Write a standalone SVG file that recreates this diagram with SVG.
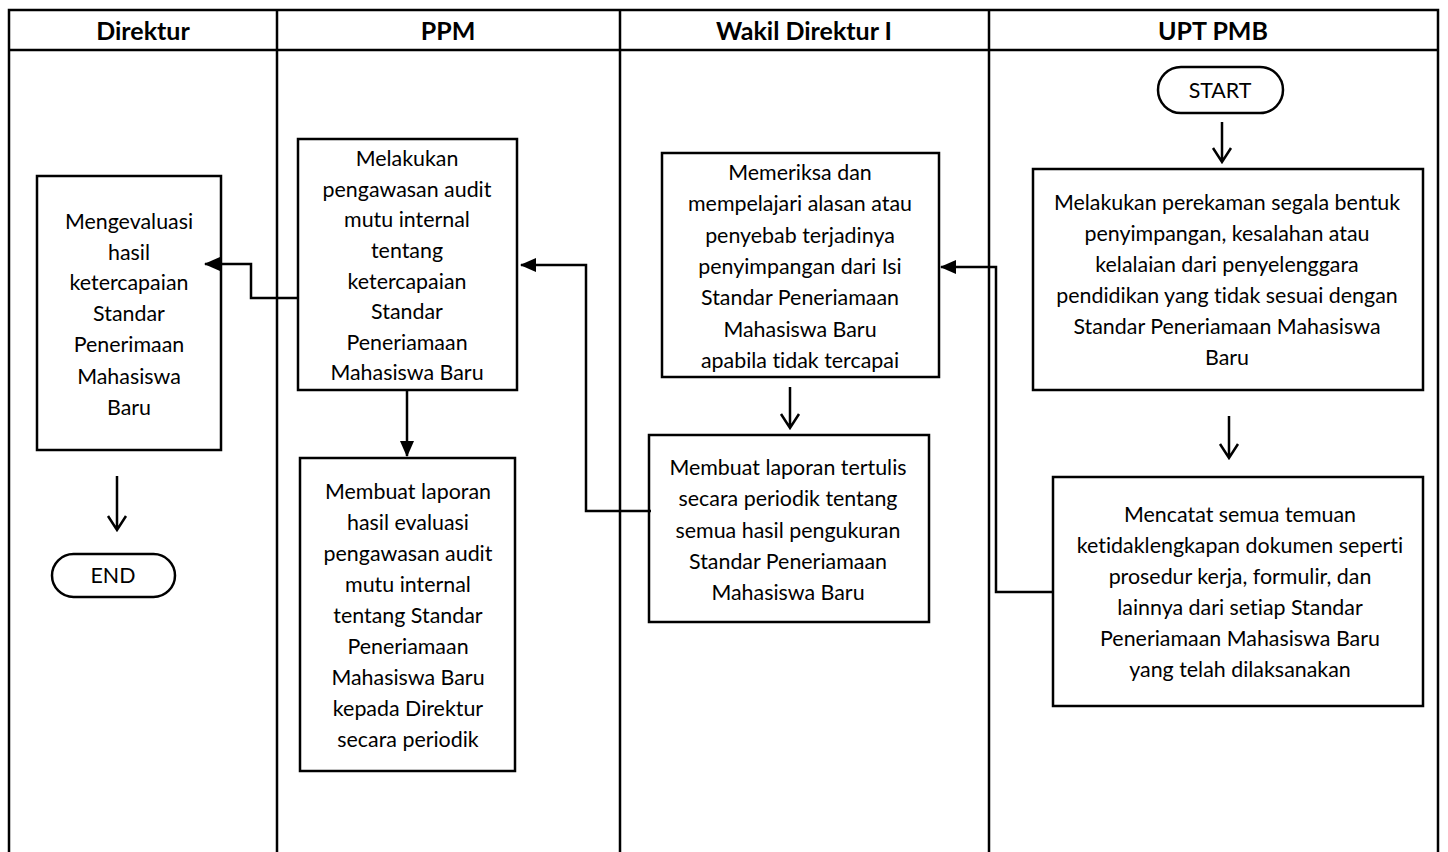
<svg xmlns="http://www.w3.org/2000/svg" width="1448" height="852" viewBox="0 0 1448 852">
<style>
.lane{stroke:#000;stroke-width:2.5;fill:none}
.box{fill:#fff;stroke:#000;stroke-width:2.5}
.term{fill:#fff;stroke:#000;stroke-width:2.5}
.t{font-family:Lato,"Liberation Sans",sans-serif;font-size:21.4px;fill:#000;text-anchor:middle;font-variant-ligatures:none}
.h{font-family:Lato,"Liberation Sans",sans-serif;font-size:25px;font-weight:bold;fill:#000;text-anchor:middle}
.c{stroke:#000;stroke-width:2.5;fill:none}
</style>
<defs>
<marker id="fill" markerUnits="userSpaceOnUse" markerWidth="16" markerHeight="14" refX="15" refY="7" orient="auto">
<path d="M0,0 L16,7 L0,14 Z" fill="#000"/>
</marker>
</defs>
<rect width="1448" height="852" fill="#fff"/>
<g id="lanes">
<path class="lane" d="M9,852 V10 H1438 V852 M9,50 H1438 M277,10 V852 M620,10 V852 M989,10 V852"/>
<text class="h" x="143" y="40">Direktur</text>
<text class="h" x="448" y="40">PPM</text>
<text class="h" x="804" y="40">Wakil Direktur I</text>
<text class="h" x="1213" y="40">UPT PMB</text>
</g>
<g id="start">
<rect class="term" x="1158" y="67" width="125" height="46" rx="23"/>
<text class="t" x="1220" y="98">START</text>
</g>
<g id="upt1">
<rect class="box" x="1033" y="169" width="390" height="221"/>
<text class="t" x="1227" y="210">Melakukan perekaman segala bentuk</text>
<text class="t" x="1227" y="241">penyimpangan, kesalahan atau</text>
<text class="t" x="1227" y="272">kelalaian dari penyelenggara</text>
<text class="t" x="1227" y="303">pendidikan yang tidak sesuai dengan</text>
<text class="t" x="1227" y="334">Standar Peneriamaan Mahasiswa</text>
<text class="t" x="1227" y="365">Baru</text>
</g>
<g id="upt2">
<rect class="box" x="1053" y="477" width="370" height="229"/>
<text class="t" x="1240" y="522">Mencatat semua temuan</text>
<text class="t" x="1240" y="553">ketidaklengkapan dokumen seperti</text>
<text class="t" x="1240" y="584">prosedur kerja, formulir, dan</text>
<text class="t" x="1240" y="615">lainnya dari setiap Standar</text>
<text class="t" x="1240" y="646">Peneriamaan Mahasiswa Baru</text>
<text class="t" x="1240" y="677">yang telah dilaksanakan</text>
</g>
<g id="wakil1">
<rect class="box" x="662" y="153" width="277" height="224"/>
<text class="t" x="800" y="180">Memeriksa dan</text>
<text class="t" x="800" y="211">mempelajari alasan atau</text>
<text class="t" x="800" y="243">penyebab terjadinya</text>
<text class="t" x="800" y="274">penyimpangan dari Isi</text>
<text class="t" x="800" y="305">Standar Peneriamaan</text>
<text class="t" x="800" y="337">Mahasiswa Baru</text>
<text class="t" x="800" y="368">apabila tidak tercapai</text>
</g>
<g id="wakil2">
<rect class="box" x="649" y="435" width="280" height="187"/>
<text class="t" x="788" y="475">Membuat laporan tertulis</text>
<text class="t" x="788" y="506">secara periodik tentang</text>
<text class="t" x="788" y="538">semua hasil pengukuran</text>
<text class="t" x="788" y="569">Standar Peneriamaan</text>
<text class="t" x="788" y="600">Mahasiswa Baru</text>
</g>
<g id="ppm1">
<rect class="box" x="298" y="139" width="219" height="251"/>
<text class="t" x="407" y="166">Melakukan</text>
<text class="t" x="407" y="197">pengawasan audit</text>
<text class="t" x="407" y="227">mutu internal</text>
<text class="t" x="407" y="258">tentang</text>
<text class="t" x="407" y="289">ketercapaian</text>
<text class="t" x="407" y="319">Standar</text>
<text class="t" x="407" y="350">Peneriamaan</text>
<text class="t" x="407" y="380">Mahasiswa Baru</text>
</g>
<g id="ppm2">
<rect class="box" x="300" y="458" width="215" height="313"/>
<text class="t" x="408" y="499">Membuat laporan</text>
<text class="t" x="408" y="530">hasil evaluasi</text>
<text class="t" x="408" y="561">pengawasan audit</text>
<text class="t" x="408" y="592">mutu internal</text>
<text class="t" x="408" y="623">tentang Standar</text>
<text class="t" x="408" y="654">Peneriamaan</text>
<text class="t" x="408" y="685">Mahasiswa Baru</text>
<text class="t" x="408" y="716">kepada Direktur</text>
<text class="t" x="408" y="747">secara periodik</text>
</g>
<g id="direktur1">
<rect class="box" x="37" y="176" width="184" height="274"/>
<text class="t" x="129" y="229">Mengevaluasi</text>
<text class="t" x="129" y="260">hasil</text>
<text class="t" x="129" y="290">ketercapaian</text>
<text class="t" x="129" y="321">Standar</text>
<text class="t" x="129" y="352">Penerimaan</text>
<text class="t" x="129" y="384">Mahasiswa</text>
<text class="t" x="129" y="415">Baru</text>
</g>
<g id="end">
<rect class="term" x="52" y="554" width="123" height="43" rx="21.5"/>
<text class="t" x="113" y="583">END</text>
</g>
<g id="connectors">
<path class="c" d="M298,298 H251 V264 H205" marker-end="url(#fill)"/>
<path class="c" d="M651,511 H586 V265 H521" marker-end="url(#fill)"/>
<path class="c" d="M407,391 V456" marker-end="url(#fill)"/>
<path class="c" d="M1053,592 H996 V267 H941" marker-end="url(#fill)"/>
<path class="c" d="M1222,122 V162 M1213,148 L1222,162 L1231,148"/>
<path class="c" d="M1229,416 V458 M1220,444 L1229,458 L1238,444"/>
<path class="c" d="M790,387 V428 M781,414 L790,428 L799,414"/>
<path class="c" d="M117,476 V530 M108,516 L117,530 L126,516"/>
</g>
</svg>
